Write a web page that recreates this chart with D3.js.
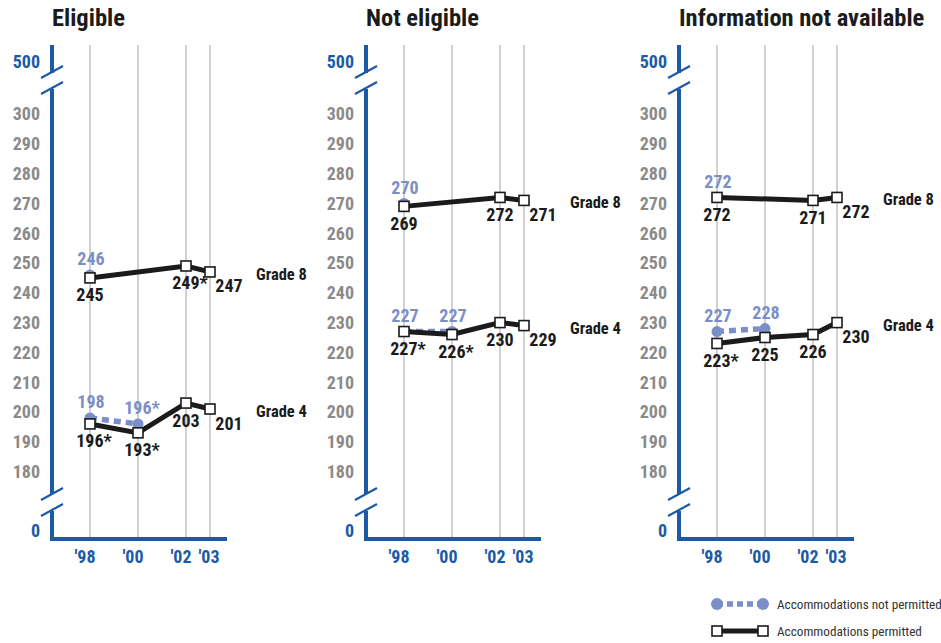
<!DOCTYPE html>
<html>
<head>
<meta charset="utf-8">
<script src="https://cdn.jsdelivr.net/npm/d3@7"></script>
<style>
  html, body { margin: 0; padding: 0; background: #fff; }
  svg { display: block; }
  text { font-family: "Roboto Condensed", "Open Sans Condensed", "DejaVu Sans Condensed", sans-serif; }
</style>
</head>
<body>
<svg id="chart" width="941" height="643"></svg>
<script>
// ---- data ----
const panelTitles = ["Eligible", "Not eligible", "Information not available"];
const years = [1998, 2000, 2002, 2003];
const yearLabels = ["'98", "'00", "'02", "'03"];
const yTicks = [0, 180, 190, 200, 210, 220, 230, 240, 250, 260, 270, 280, 290, 300, 500];
const gradeNames = ["Grade 8", "Grade 4"];

// Grade 8, accommodations permitted (null = not assessed)
const g8Permitted    = [[245, null, 249, 247], [269, null, 272, 271], [272, null, 271, 272]];
const g8PermittedSig = [[0, 0, 1, 0], [0, 0, 0, 0], [0, 0, 0, 0]];
// Grade 8, accommodations not permitted
const g8NotPermitted    = [[246, null, null, null], [270, null, null, null], [272, null, null, null]];
const g8NotPermittedSig = [[0, 0, 0, 0], [0, 0, 0, 0], [0, 0, 0, 0]];
// Grade 4, accommodations permitted
const g4Permitted    = [[196, 193, 203, 201], [227, 226, 230, 229], [223, 225, 226, 230]];
const g4PermittedSig = [[1, 1, 0, 0], [1, 1, 0, 0], [1, 0, 0, 0]];
// Grade 4, accommodations not permitted
const g4NotPermitted    = [[198, 196, null, null], [227, 227, null, null], [227, 228, null, null]];
const g4NotPermittedSig = [[0, 1, 0, 0], [0, 0, 0, 0], [0, 0, 0, 0]];

const legendLabels = ["Accommodations not permitted", "Accommodations permitted"];

// ---- styling ----
const BLUE = "#1c5aa6";
const LIGHT = "#7b8ec8";
const INK = "#1b1b1b";
const TICK_GRAY = "#8a8a8a";
const GRID = "#a3a3a3";

const svg = d3.select("#chart");

// broken value axis: 0 | 180–300 | 500
const y = d3.scaleLinear()
  .domain([0, 180, 300, 500])
  .range([531, 471.6, 114, 62]);

const panelX = [52, 366, 679];
const axisTop = 45, axisBottom = 539;
const upperBreakY = 80, lowerBreakY = 502;

panelTitles.forEach((title, p) => {
  const ax = panelX[p];
  const x = d3.scaleLinear().domain([1998, 2003]).range([ax + 38, ax + 158]);
  const g = svg.append("g");

  // title
  g.append("text")
    .attr("x", ax).attr("y", 26)
    .attr("font-size", 24.5).attr("font-weight", 700)
    .attr("fill", INK)
    .text(title);

  // vertical year gridlines
  g.selectAll("line.grid").data(years).enter().append("line")
    .attr("x1", d => x(d)).attr("x2", d => x(d))
    .attr("y1", axisTop).attr("y2", axisBottom)
    .attr("stroke", GRID).attr("stroke-width", 1);

  // value axis with breaks
  const segs = [[axisTop, upperBreakY - 7], [upperBreakY + 9, lowerBreakY - 8], [lowerBreakY + 9, axisBottom + 2]];
  segs.forEach(s => {
    g.append("line")
      .attr("x1", ax).attr("x2", ax).attr("y1", s[0]).attr("y2", s[1])
      .attr("stroke", BLUE).attr("stroke-width", 4);
  });
  [upperBreakY, lowerBreakY].forEach(by => {
    [-8, 8].forEach(off => {
      g.append("line")
        .attr("x1", ax - 11).attr("y1", by + off + 6)
        .attr("x2", ax + 11).attr("y2", by + off - 6)
        .attr("stroke", BLUE).attr("stroke-width", 2.2);
    });
  });

  // bottom axis
  g.append("line")
    .attr("x1", ax - 2).attr("x2", ax + 175)
    .attr("y1", axisBottom).attr("y2", axisBottom)
    .attr("stroke", BLUE).attr("stroke-width", 4);

  // y tick labels
  g.selectAll("text.ytick").data(yTicks).enter().append("text")
    .attr("x", ax - 12).attr("y", d => y(d))
    .attr("dy", "0.36em")
    .attr("text-anchor", "end")
    .attr("font-size", 18).attr("font-weight", 700)
    .attr("fill", d => (d === 0 || d === 500) ? BLUE : TICK_GRAY)
    .text(d => d);

  // year labels
  g.selectAll("text.year").data(years).enter().append("text")
    .attr("x", (d, i) => x(d) - (i === 3 ? 1 : 5)).attr("y", 557)
    .attr("dy", "0.36em")
    .attr("text-anchor", "middle")
    .attr("font-size", 18).attr("font-weight", 700)
    .attr("fill", BLUE)
    .text((d, i) => yearLabels[i]);

  const series = [
    { vals: g8NotPermitted[p], sig: g8NotPermittedSig[p], kind: "np" },
    { vals: g4NotPermitted[p], sig: g4NotPermittedSig[p], kind: "np" },
    { vals: g8Permitted[p], sig: g8PermittedSig[p], kind: "pm" },
    { vals: g4Permitted[p], sig: g4PermittedSig[p], kind: "pm" }
  ];

  const line = d3.line().x(d => x(d.year)).y(d => y(d.v));

  series.forEach(s => {
    const pts = years.map((yr, i) => ({ year: yr, v: s.vals[i], sig: s.sig[i], i }))
      .filter(d => d.v !== null);
    if (s.kind === "np") {
      if (pts.length > 1) {
        g.append("path").datum(pts)
          .attr("d", line)
          .attr("fill", "none")
          .attr("stroke", LIGHT).attr("stroke-width", 5.5)
          .attr("stroke-dasharray", "7,5");
      }
      g.selectAll(null).data(pts).enter().append("circle")
        .attr("cx", d => x(d.year)).attr("cy", d => y(d.v))
        .attr("r", 5.5).attr("fill", LIGHT);
      g.selectAll(null).data(pts).enter().append("text")
        .attr("x", d => x(d.year) + (d.sig ? 4 : 1)).attr("y", d => y(d.v) - 16)
        .attr("dy", "0.36em").attr("text-anchor", "middle")
        .attr("font-size", 18).attr("font-weight", 700)
        .attr("fill", LIGHT)
        .text(d => d.v + (d.sig ? "*" : ""));
    } else {
      g.append("path").datum(pts)
        .attr("d", line)
        .attr("fill", "none")
        .attr("stroke", INK).attr("stroke-width", 5)
        .attr("stroke-linejoin", "miter");
      g.selectAll(null).data(pts).enter().append("rect")
        .attr("x", d => x(d.year) - 5).attr("y", d => y(d.v) - 5)
        .attr("width", 10).attr("height", 10)
        .attr("fill", "#fff").attr("stroke", INK).attr("stroke-width", 1.6);
      g.selectAll(null).data(pts).enter().append("text")
        .attr("x", d => x(d.year) + (d.i === 3 ? 19 : 0) + (d.sig ? 4 : 0))
        .attr("y", d => y(d.v) + (d.i === 3 ? 14 : 17))
        .attr("dy", "0.36em").attr("text-anchor", "middle")
        .attr("font-size", 18).attr("font-weight", 700)
        .attr("fill", INK)
        .text(d => d.v + (d.sig ? "*" : ""));
    }
  });

  // grade labels at the end of each permitted line
  [g8Permitted[p], g4Permitted[p]].forEach((vals, k) => {
    g.append("text")
      .attr("x", x(2003) + 46).attr("y", y(vals[3]) + 2)
      .attr("dy", "0.36em")
      .attr("font-size", 16.5).attr("font-weight", 700)
      .attr("fill", INK)
      .text(gradeNames[k]);
  });
});

// legend
const lg = svg.append("g");
const lx1 = 717, lx2 = 763;
lg.append("line").attr("x1", lx1).attr("x2", lx2).attr("y1", 604).attr("y2", 604)
  .attr("stroke", LIGHT).attr("stroke-width", 5.5).attr("stroke-dasharray", "6,4");
[lx1, lx2].forEach(cx => lg.append("circle").attr("cx", cx).attr("cy", 604).attr("r", 6).attr("fill", LIGHT));
lg.append("line").attr("x1", lx1).attr("x2", lx2).attr("y1", 631).attr("y2", 631)
  .attr("stroke", INK).attr("stroke-width", 5);
[lx1, lx2].forEach(cx => lg.append("rect").attr("x", cx - 5).attr("y", 626).attr("width", 10).attr("height", 10)
  .attr("fill", "#fff").attr("stroke", INK).attr("stroke-width", 1.6));
legendLabels.forEach((t, i) => {
  lg.append("text")
    .attr("x", 777).attr("y", 604 + i * 27)
    .attr("dy", "0.36em")
    .attr("font-size", 13.2)
    .attr("fill", "#333")
    .text(t);
});
</script>
</body>
</html>
